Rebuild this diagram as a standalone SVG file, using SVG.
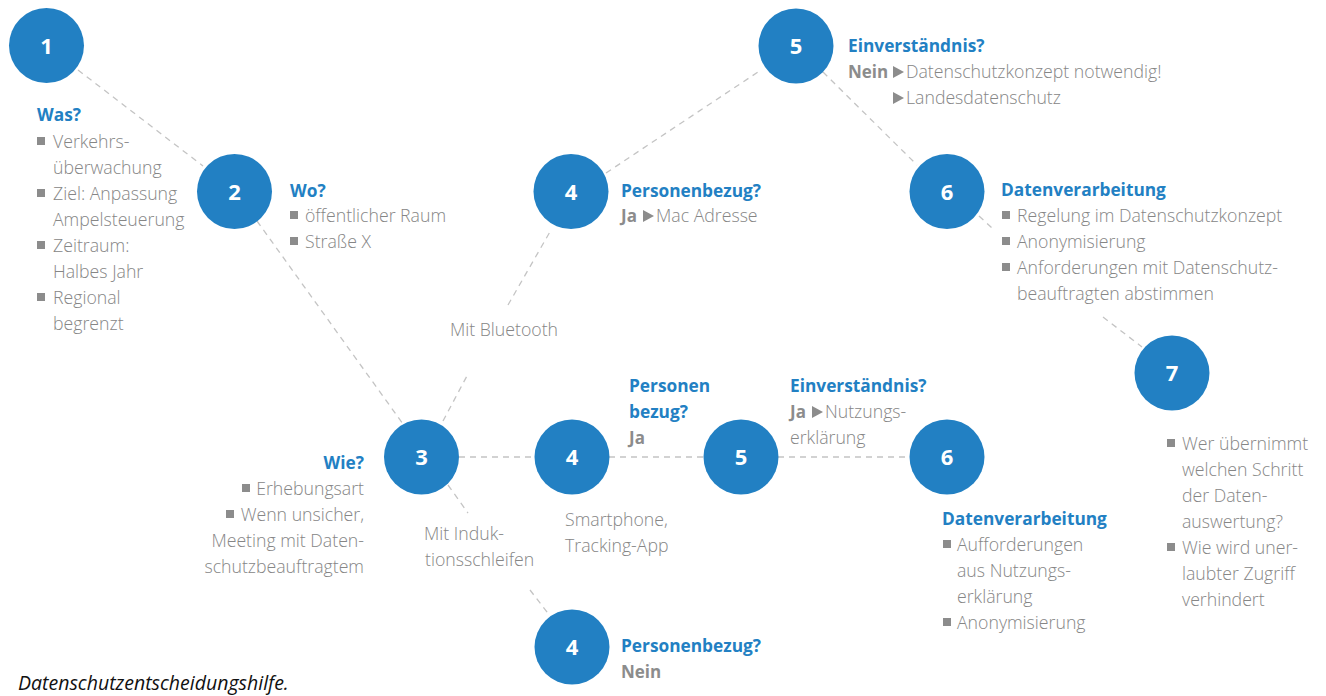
<svg xmlns="http://www.w3.org/2000/svg" width="1326" height="696" viewBox="0 0 1326 696">
<defs>
<style>
.c{fill:#2280c3}
.n{fill:#fff;font-family:"Open Sans","Noto Sans",sans-serif;font-weight:700;font-size:22px;text-anchor:middle}
.h{fill:#2280c3;font-family:"Open Sans","Noto Sans",sans-serif;font-weight:700;font-size:17.3px}
.t{fill:#868686;font-family:"Open Sans","Noto Sans",sans-serif;font-weight:300;font-size:17.7px}
.b{fill:#8c8c8c;font-family:"Open Sans","Noto Sans",sans-serif;font-weight:700;font-size:17px}
.r{text-anchor:end}
.cap{fill:#111;font-family:"Open Sans","Noto Sans",sans-serif;font-style:italic;font-size:19.5px}
.l{stroke:#c4c4c4;stroke-width:1.3;stroke-dasharray:6 5;fill:none}
</style>
<rect id="sq" x="0" y="-11" width="8" height="8" fill="#8c8c8c"/>
<path id="tri" d="M0,-12 L11,-6 L0,0 Z" fill="#8c8c8c"/>
</defs>
<rect width="1326" height="696" fill="#fff"/>

<g id="connectors">
<line class="l" x1="78" y1="70" x2="203" y2="166"/>
<line class="l" x1="257" y1="221" x2="403" y2="424"/>
<line class="l" x1="443" y1="421" x2="468" y2="374"/>
<line class="l" x1="508" y1="305" x2="551" y2="230"/>
<line class="l" x1="606" y1="173" x2="761" y2="70"/>
<line class="l" x1="823" y1="72" x2="917" y2="165"/>
<line class="l" x1="979" y1="216" x2="992" y2="228"/>
<line class="l" x1="1103" y1="317" x2="1142" y2="347"/>
<line class="l" x1="459" y1="457" x2="535" y2="457"/>
<line class="l" x1="609" y1="457" x2="704" y2="457"/>
<line class="l" x1="778" y1="457" x2="910" y2="457"/>
<line class="l" x1="448" y1="485" x2="468" y2="513"/>
<line class="l" x1="530" y1="590" x2="550" y2="616"/>
</g>

<g id="node1">
<circle class="c" cx="46.5" cy="45.5" r="37.5"/>
<text class="n" x="46.5" y="53.5">1</text>
<text class="h" x="37" y="121">Was?</text>
<use href="#sq" x="37" y="148"/><text class="t" x="53" y="148">Verkehrs-</text>
<text class="t" x="53" y="174">überwachung</text>
<use href="#sq" x="37" y="200"/><text class="t" x="53" y="200">Ziel: Anpassung</text>
<text class="t" x="53" y="226">Ampelsteuerung</text>
<use href="#sq" x="37" y="252"/><text class="t" x="53" y="252">Zeitraum:</text>
<text class="t" x="53" y="278">Halbes Jahr</text>
<use href="#sq" x="37" y="304"/><text class="t" x="53" y="304">Regional</text>
<text class="t" x="53" y="330">begrenzt</text>
</g>

<g id="node2">
<circle class="c" cx="234.5" cy="191.5" r="37.5"/>
<text class="n" x="234.5" y="199.5">2</text>
<text class="h" x="290" y="197">Wo?</text>
<use href="#sq" x="290" y="222"/><text class="t" x="305" y="222">öffentlicher Raum</text>
<use href="#sq" x="290" y="248"/><text class="t" x="305" y="248">Straße X</text>
</g>

<g id="node3">
<circle class="c" cx="421.5" cy="457" r="37.5"/>
<text class="n" x="421.5" y="465">3</text>
<text class="h r" x="364" y="469">Wie?</text>
<use href="#sq" x="242" y="495"/><text class="t r" x="364" y="495">Erhebungsart</text>
<use href="#sq" x="226" y="521"/><text class="t r" x="364" y="521">Wenn unsicher,</text>
<text class="t r" x="364" y="547">Meeting mit Daten-</text>
<text class="t r" x="364" y="573">schutzbeauftragtem</text>
</g>

<g id="label-bluetooth">
<text class="t" x="504" y="336" text-anchor="middle">Mit Bluetooth</text>
</g>
<g id="label-induktion">
<text class="t" x="424" y="540">Mit Induk-</text>
<text class="t" x="425" y="566">tionsschleifen</text>
</g>

<g id="node4a">
<circle class="c" cx="571" cy="191.5" r="37.5"/>
<text class="n" x="571" y="199.5">4</text>
<text class="h" x="621" y="197">Personenbezug?</text>
<text class="b" x="621" y="222">Ja</text>
<use href="#tri" x="643" y="222"/>
<text class="t" x="656" y="222">Mac Adresse</text>
</g>

<g id="node5a">
<circle class="c" cx="796" cy="46" r="37.5"/>
<text class="n" x="796" y="54">5</text>
<text class="h" x="848" y="52">Einverständnis?</text>
<text class="b" x="848" y="78">Nein</text>
<use href="#tri" x="893" y="78"/>
<text class="t" x="906" y="78">Datenschutzkonzept notwendig!</text>
<use href="#tri" x="893" y="104"/>
<text class="t" x="906" y="104">Landesdatenschutz</text>
</g>

<g id="node6a">
<circle class="c" cx="947" cy="191.5" r="37.5"/>
<text class="n" x="947" y="199.5">6</text>
<text class="h" x="1001" y="196">Datenverarbeitung</text>
<use href="#sq" x="1002" y="222"/><text class="t" x="1017" y="222">Regelung im Datenschutzkonzept</text>
<use href="#sq" x="1002" y="248"/><text class="t" x="1017" y="248">Anonymisierung</text>
<use href="#sq" x="1002" y="274"/><text class="t" x="1017" y="274">Anforderungen mit Datenschutz-</text>
<text class="t" x="1017" y="300">beauftragten abstimmen</text>
</g>

<g id="node7">
<circle class="c" cx="1172" cy="373" r="37.5"/>
<text class="n" x="1172" y="381">7</text>
<use href="#sq" x="1167" y="450"/><text class="t" x="1182" y="450">Wer übernimmt</text>
<text class="t" x="1182" y="476">welchen Schritt</text>
<text class="t" x="1182" y="502">der Daten-</text>
<text class="t" x="1182" y="528">auswertung?</text>
<use href="#sq" x="1167" y="554"/><text class="t" x="1182" y="554">Wie wird uner-</text>
<text class="t" x="1182" y="580">laubter Zugriff</text>
<text class="t" x="1182" y="606">verhindert</text>
</g>

<g id="node4b">
<circle class="c" cx="572" cy="457" r="37.5"/>
<text class="n" x="572" y="465">4</text>
<text class="h" x="629" y="392">Personen</text>
<text class="h" x="629" y="418">bezug?</text>
<text class="b" x="629" y="444">Ja</text>
<text class="t" x="565" y="526">Smartphone,</text>
<text class="t" x="565" y="552">Tracking-App</text>
</g>

<g id="node5b">
<circle class="c" cx="741" cy="457" r="37.5"/>
<text class="n" x="741" y="465">5</text>
<text class="h" x="790" y="392">Einverständnis?</text>
<text class="b" x="790" y="418">Ja</text>
<use href="#tri" x="812" y="418"/>
<text class="t" x="825" y="418">Nutzungs-</text>
<text class="t" x="790" y="444">erklärung</text>
</g>

<g id="node6b">
<circle class="c" cx="947" cy="457" r="37.5"/>
<text class="n" x="947" y="465">6</text>
<text class="h" x="942" y="525">Datenverarbeitung</text>
<use href="#sq" x="943" y="551"/><text class="t" x="957" y="551">Aufforderungen</text>
<text class="t" x="957" y="577">aus Nutzungs-</text>
<text class="t" x="957" y="603">erklärung</text>
<use href="#sq" x="943" y="629"/><text class="t" x="957" y="629">Anonymisierung</text>
</g>

<g id="node4c">
<circle class="c" cx="572" cy="647" r="37.5"/>
<text class="n" x="572" y="655">4</text>
<text class="h" x="621" y="652">Personenbezug?</text>
<text class="b" x="621" y="678">Nein</text>
</g>

<text class="cap" x="18" y="690">Datenschutzentscheidungshilfe.</text>
</svg>
